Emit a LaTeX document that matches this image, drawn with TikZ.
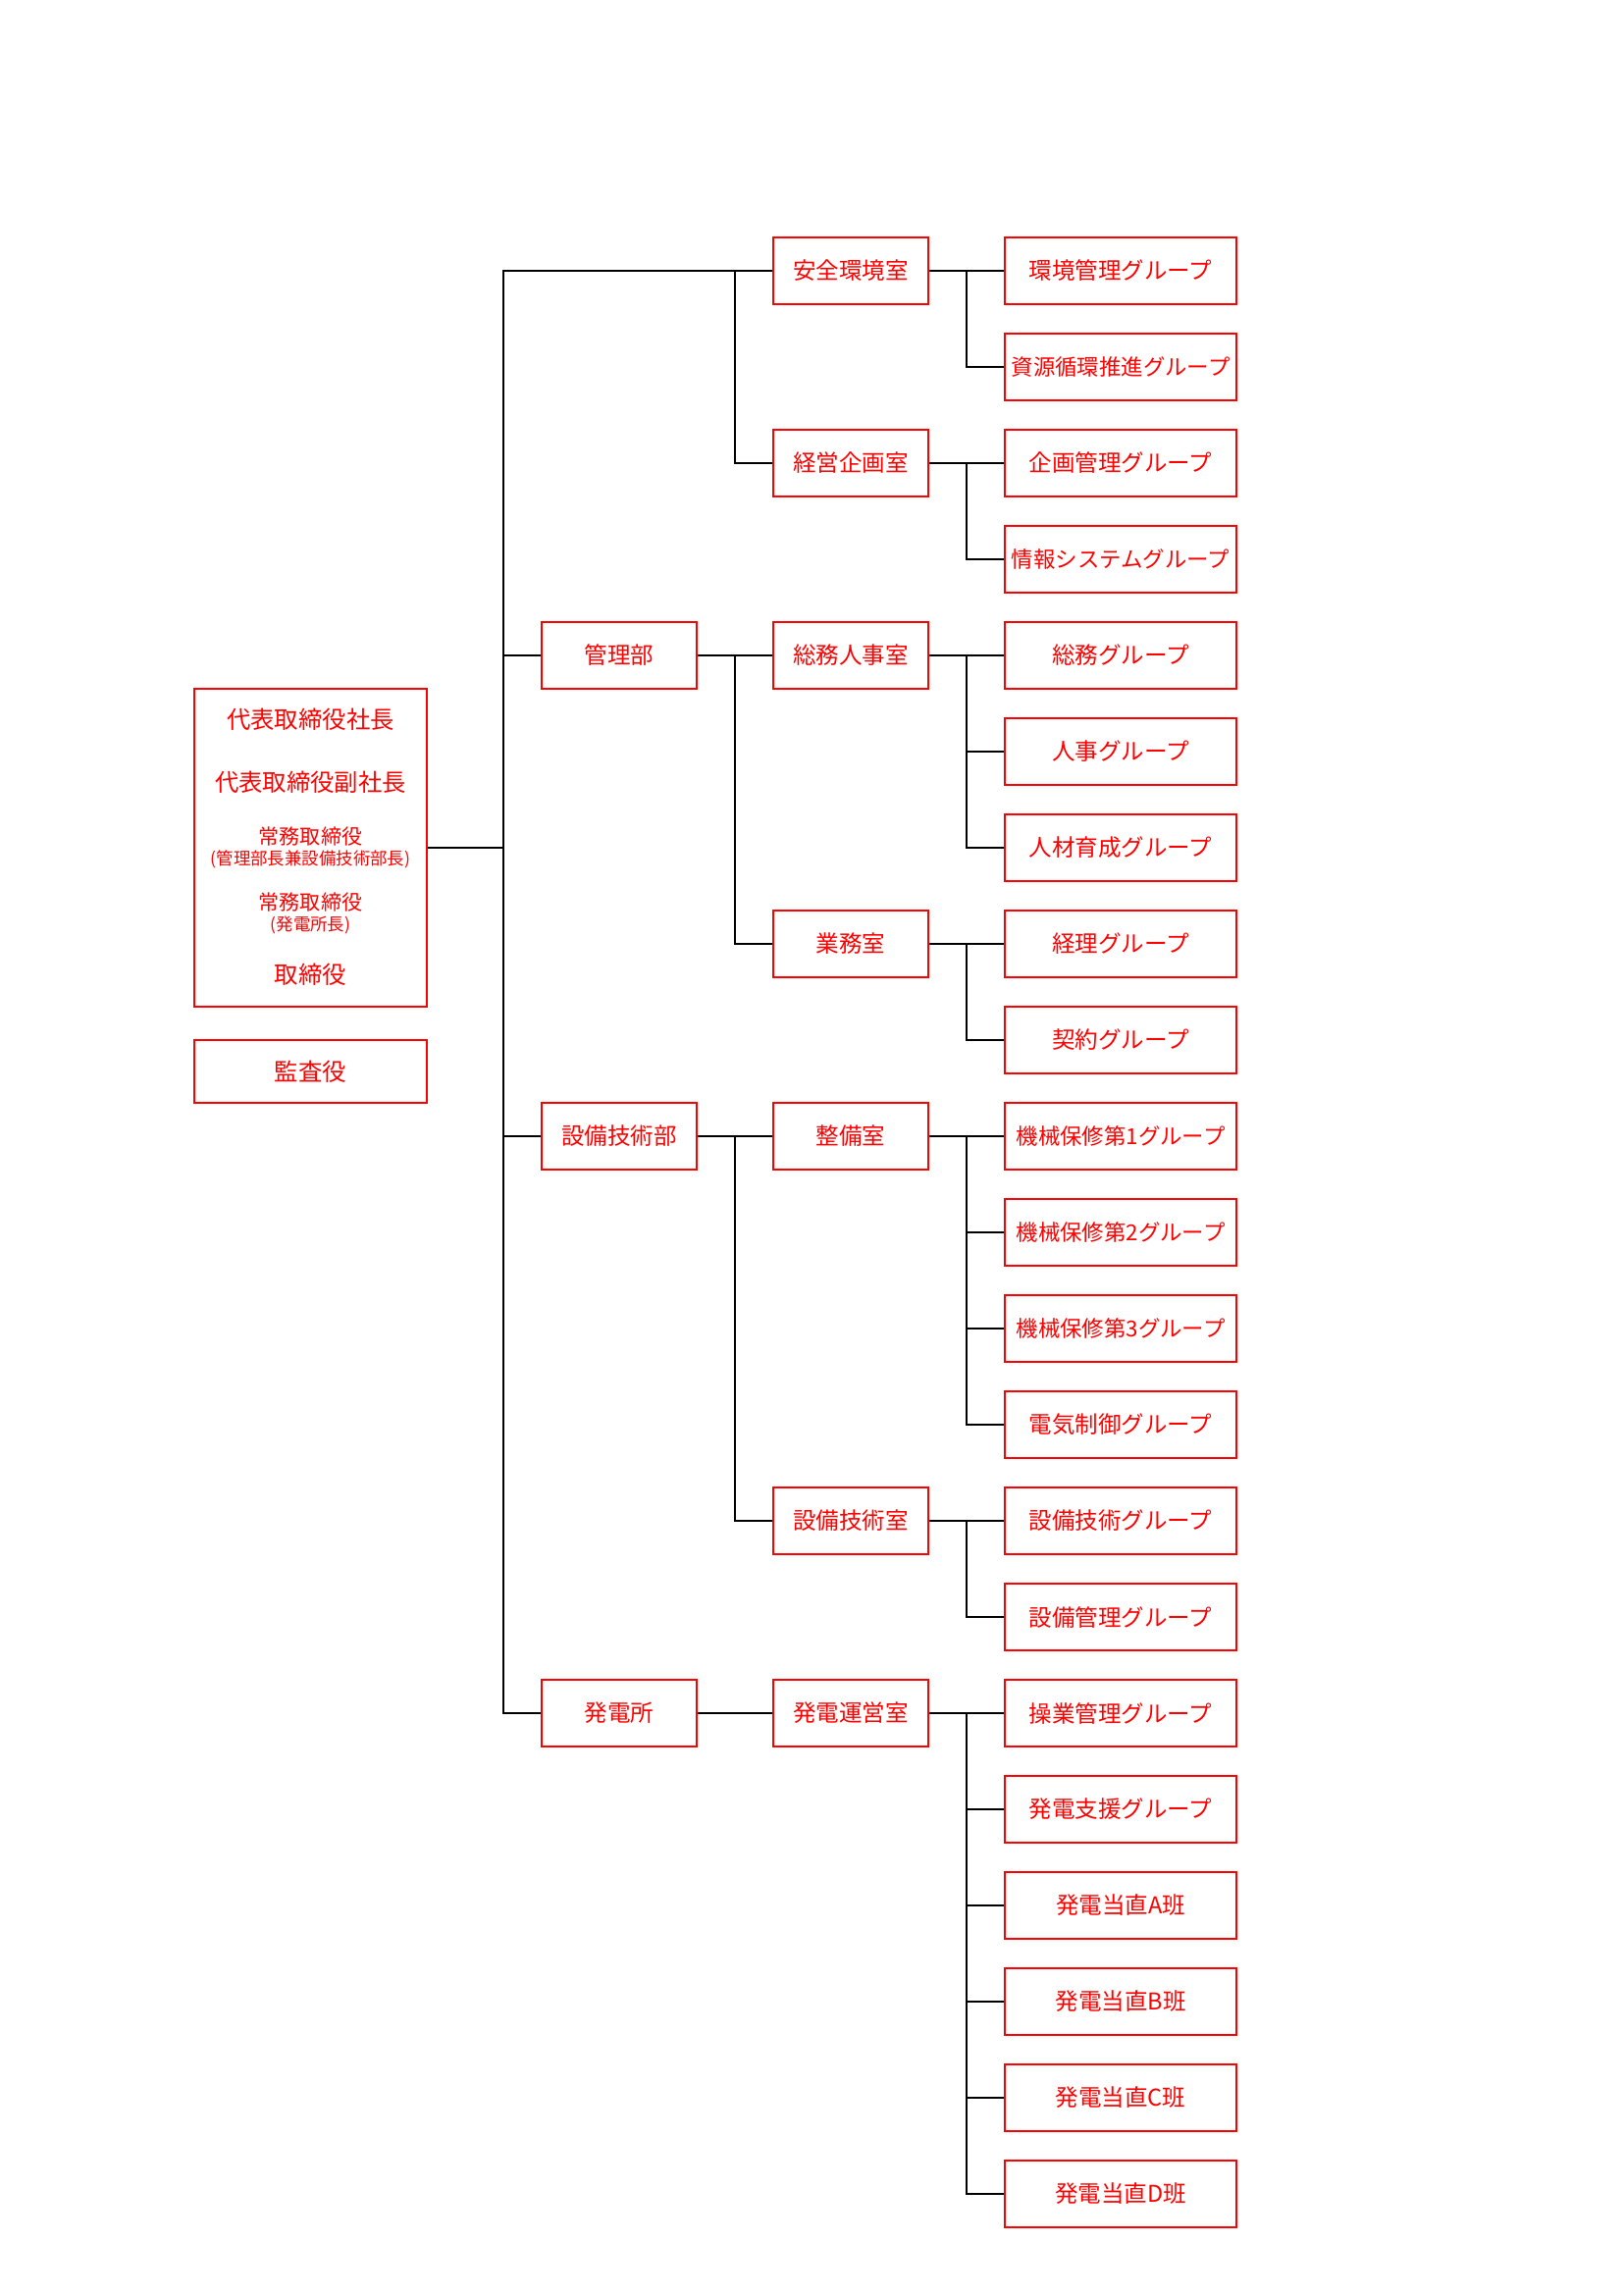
\documentclass[tikz,border=0pt]{standalone}
\usepackage{fontspec}
\setmainfont{Noto Sans CJK JP}
\usetikzlibrary{positioning}

\tikzset{
  unit/.style={draw=red, text=red, line width=0.19mm, minimum height=8.64mm, inner sep=0pt, font={\fontsize{8.5}{10}\selectfont}},
  bu/.style={unit, minimum width=20.07mm},
  grp/.style={unit, minimum width=29.97mm},
  grplong/.style={grp, font={\fontsize{8.1}{9}\selectfont}},
  title/.style={text=red, inner sep=0pt, font={\fontsize{8.8}{10}\selectfont}},
  subtitle/.style={text=red, inner sep=0pt, font={\fontsize{7.6}{9}\selectfont}},
  note/.style={text=red, inner sep=0pt, font={\fontsize{6.3}{7}\selectfont}},
  link/.style={black, line width=0.17mm},
}

\begin{document}
\begin{tikzpicture}[x=0.127mm, y=-0.127mm]
	\useasboundingbox (0,0) rectangle (1654,2338);

	% Officers
	\node[draw=red, line width=0.19mm, minimum width=30.1mm, minimum height=41.15mm, inner sep=0pt] (top) at (316.5,864) {};
	\node[title] (pres) at (316.5,733) {代表取締役社長};
	\node[title] (vpres) at (316.5,797) {代表取締役副社長};
	\node[subtitle] (dir1) at (316.5,853) {常務取締役};
	\node[note] (dir1n) at (316.5,876) {(管理部長兼設備技術部長)};
	\node[subtitle] (dir2) at (316.5,920) {常務取締役};
	\node[note] (dir2n) at (316.5,943) {(発電所長)};
	\node[title] (dir3) at (316.5,993) {取締役};
	\node[unit, minimum width=30.1mm, minimum height=8.13mm, font={\fontsize{8.8}{10}\selectfont}] (kansa) at (316.5,1092) {監査役};

	% Departments
	\node[bu] (kanri) at (631,668) {管理部};
	\node[bu] (setsubi) at (631,1158) {設備技術部};
	\node[bu] (hatsuden) at (631,1746) {発電所};

	% Offices
	\node[bu] (anzen) at (867,276) {安全環境室};
	\node[bu] (keiei) at (867,472) {経営企画室};
	\node[bu] (somu) at (867,668) {総務人事室};
	\node[bu] (gyomu) at (867,962) {業務室};
	\node[bu] (seibi) at (867,1158) {整備室};
	\node[bu] (gijutsu) at (867,1550) {設備技術室};
	\node[bu] (unei) at (867,1746) {発電運営室};

	% Groups
	\node[grp] (g0) at (1142,276) {環境管理グループ};
	\node[grplong] (g1) at (1142,374) {資源循環推進グループ};
	\node[grp] (g2) at (1142,472) {企画管理グループ};
	\node[grplong] (g3) at (1142,570) {情報システムグループ};
	\node[grp] (g4) at (1142,668) {総務グループ};
	\node[grp] (g5) at (1142,766) {人事グループ};
	\node[grp] (g6) at (1142,864) {人材育成グループ};
	\node[grp] (g7) at (1142,962) {経理グループ};
	\node[grp] (g8) at (1142,1060) {契約グループ};
	\node[grplong] (g9) at (1142,1158) {機械保修第1グループ};
	\node[grplong] (g10) at (1142,1256) {機械保修第2グループ};
	\node[grplong] (g11) at (1142,1354) {機械保修第3グループ};
	\node[grp] (g12) at (1142,1452) {電気制御グループ};
	\node[grp] (g13) at (1142,1550) {設備技術グループ};
	\node[grp] (g14) at (1142,1648) {設備管理グループ};
	\node[grp] (g15) at (1142,1746) {操業管理グループ};
	\node[grp] (g16) at (1142,1844) {発電支援グループ};
	\node[grp] (g17) at (1142,1942) {発電当直A班};
	\node[grp] (g18) at (1142,2040) {発電当直B班};
	\node[grp] (g19) at (1142,2138) {発電当直C班};
	\node[grp] (g20) at (1142,2236) {発電当直D班};

	% Junction columns
	\coordinate (trunk) at (513,0);
	\coordinate (j1) at (749,0);
	\coordinate (j2) at (985,0);

	% Main trunk
	\draw[link] (top.east) -- (top.east -| trunk);
	\draw[link] (anzen.west) -| (trunk |- hatsuden.west) -- (hatsuden.west);
	\draw[link] (kanri.west) -- (kanri.west -| trunk);
	\draw[link] (setsubi.west) -- (setsubi.west -| trunk);

	% Departments to offices
	\draw[link] (keiei.west) -| (anzen.west -| j1);
	\draw[link] (kanri.east) -- (somu.west);
	\draw[link] (gyomu.west) -| (somu.west -| j1);
	\draw[link] (setsubi.east) -- (seibi.west);
	\draw[link] (gijutsu.west) -| (seibi.west -| j1);
	\draw[link] (hatsuden.east) -- (unei.west);

	% Offices to groups
	\draw[link] (anzen.east) -- (g0.west);
	\draw[link] (g1.west) -| (g0.west -| j2);
	\draw[link] (keiei.east) -- (g2.west);
	\draw[link] (g3.west) -| (g2.west -| j2);
	\draw[link] (somu.east) -- (g4.west);
	\draw[link] (g6.west) -| (g4.west -| j2);
	\draw[link] (g5.west) -- (g5.west -| j2);
	\draw[link] (gyomu.east) -- (g7.west);
	\draw[link] (g8.west) -| (g7.west -| j2);
	\draw[link] (seibi.east) -- (g9.west);
	\draw[link] (g12.west) -| (g9.west -| j2);
	\draw[link] (g10.west) -- (g10.west -| j2);
	\draw[link] (g11.west) -- (g11.west -| j2);
	\draw[link] (gijutsu.east) -- (g13.west);
	\draw[link] (g14.west) -| (g13.west -| j2);
	\draw[link] (unei.east) -- (g15.west);
	\draw[link] (g20.west) -| (g15.west -| j2);
	\draw[link] (g16.west) -- (g16.west -| j2);
	\draw[link] (g17.west) -- (g17.west -| j2);
	\draw[link] (g18.west) -- (g18.west -| j2);
	\draw[link] (g19.west) -- (g19.west -| j2);

\end{tikzpicture}
\end{document}
